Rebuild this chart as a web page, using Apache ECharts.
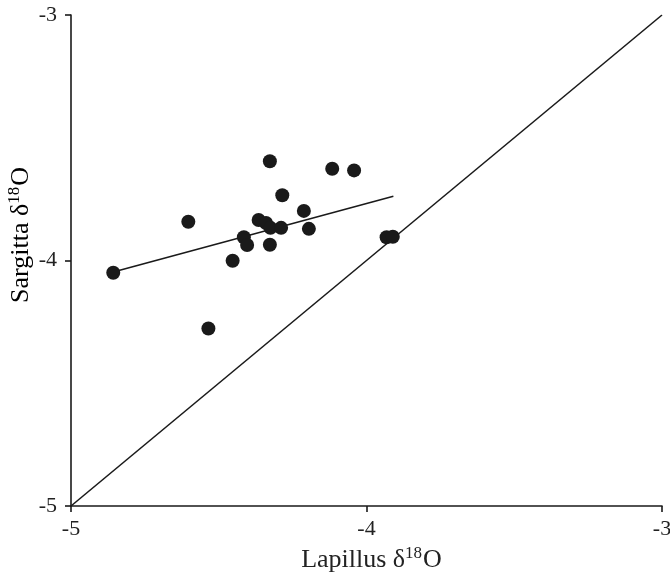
<!DOCTYPE html>
<html lang="en">
<head>
    <meta charset="UTF-8">
    <title>Sargitta vs Lapillus</title>
    <style>
        html,body{
            margin: 0;
            padding: 0;
            width: 100%;
            height: 100%;
            overflow: hidden;
            background: #fff;
        }
        #chartmain{
            width: 100%;
            height: 100%;
        }
    </style>
</head>
<body>
<div id="chartmain"></div>
<script src="https://cdn.jsdelivr.net/npm/echarts@6/dist/echarts.min.js"></script>
<script type="text/javascript">
    // otolith d18O values
    var lapillus = [-4.857, -4.603, -4.535, -4.453, -4.415, -4.404, -4.365, -4.340, -4.325, -4.289,
                    -4.327, -4.327, -4.285, -4.212, -4.195, -4.116, -4.042, -3.932, -3.911];
    var sargitta = [-4.050, -3.842, -4.277, -4.001, -3.905, -3.937, -3.835, -3.847, -3.867, -3.867,
                    -3.936, -3.596, -3.734, -3.798, -3.871, -3.626, -3.633, -3.905, -3.903];
    // fitted line ends
    var fitX = [-4.857, -3.909];
    var fitY = [-4.047, -3.738];
    // 1:1 line
    var oneX = [-5, -3];
    var oneY = [-5, -3];
    var ticks = [-5, -4, -3];

    var font = 'Liberation Serif';
    var pts = [];
    for (var i = 0; i < lapillus.length; i++) {
        pts.push([lapillus[i], sargitta[i]]);
    }
    var fit = [[fitX[0], fitY[0]], [fitX[1], fitY[1]]];
    var one = [[oneX[0], oneY[0]], [oneX[1], oneY[1]]];

    var axisCommon = {
        type: 'value',
        min: ticks[0],
        max: ticks[ticks.length - 1],
        interval: 1,
        splitLine: {show: false},
        axisLine: {show: true, onZero: false, lineStyle: {color: '#1a1a1a', width: 1.6}},
        axisTick: {show: true, inside: false, length: 6, lineStyle: {color: '#1a1a1a', width: 1.6}},
        axisLabel: {color: '#222', fontFamily: font, fontSize: 22, margin: 12}
    };

    var rich = {
        a: {fontFamily: font, fontSize: 26, color: '#222', lineHeight: 30},
        s: {fontFamily: font, fontSize: 17, color: '#222', verticalAlign: 'top', lineHeight: 30, padding: [0, 1, 0, 0]}
    };

    option = {
        animation: false,
        backgroundColor: '#fff',
        grid: {left: 71, right: 8, top: 15, bottom: 69, containLabel: false, outerBoundsMode: 'none'},
        xAxis: Object.assign({}, axisCommon, {
            name: '{a|Lapillus δ}{s|18}{a|O}',
            nameLocation: 'middle',
            nameGap: 39,
            nameTextStyle: {rich: rich, padding: [0, 0, 0, 10]}
        }),
        yAxis: Object.assign({}, axisCommon, {
            axisLabel: {color: '#222', fontFamily: font, fontSize: 22, margin: 14}
        }),
        graphic: [{
            type: 'text',
            x: 21,
            y: 235,
            rotation: Math.PI / 2,
            style: {
                text: '{a|Sargitta δ}{s|18}{a|O}',
                rich: rich,
                align: 'center',
                verticalAlign: 'middle'
            }
        }],
        series: [{
            type: 'line',
            data: one,
            symbol: 'none',
            lineStyle: {color: '#1a1a1a', width: 1.6},
            z: 2
        }, {
            type: 'line',
            data: fit,
            symbol: 'none',
            lineStyle: {color: '#1a1a1a', width: 1.6},
            z: 2
        }, {
            type: 'scatter',
            data: pts,
            symbol: 'circle',
            symbolSize: 14,
            itemStyle: {color: '#1a1a1a', opacity: 1},
            z: 3
        }]
    };

    var myChart = echarts.init(document.getElementById('chartmain'));
    myChart.setOption(option);
    window.onresize = function () { myChart.resize(); };
</script>
</body>
</html>
